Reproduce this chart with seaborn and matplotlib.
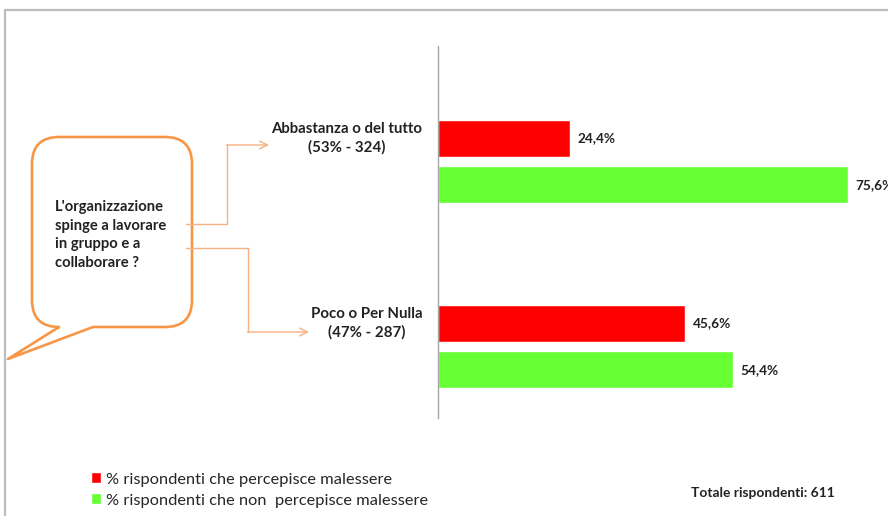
import numpy as np
import pandas as pd
import matplotlib
matplotlib.use("Agg")
import matplotlib.pyplot as plt
from matplotlib.path import Path
from matplotlib.patches import PathPatch
import seaborn as sns

# dati
categorie = ["Abbastanza o del tutto\n(53% - 324)", "Poco o Per Nulla\n(47% - 287)"]
serie = ["% rispondenti che percepisce malessere",
         "% rispondenti che non  percepisce malessere"]
malessere = [24.4, 45.6]
non_malessere = [75.6, 54.4]
colori = ["#FF0000", "#66FF33"]
domanda = "L'organizzazione\nspinge a lavorare\nin gruppo e a\ncollaborare ?"
totale = "Totale rispondenti: 611"

df = pd.DataFrame({
    "categoria": categorie * 2,
    "serie": [serie[0]] * 2 + [serie[1]] * 2,
    "valore": malessere + non_malessere,
})

sns.set_style("white")
plt.rcParams['font.family'] = ['Lato', 'DejaVu Sans']

W, H = 888, 516
fig = plt.figure(figsize=(W / 100, H / 100), dpi=100)

# assi delle barre (pixel -> frazione figura)
ax = fig.add_axes([438 / W, 1 - 418 / H, (W - 438) / W, 372 / H])
sns.barplot(data=df, y="categoria", x="valore", hue="serie", palette=colori,
            orient="h", width=0.5, gap=0.2, saturation=1, ax=ax)
ax.set_xlim(0, 83.0)
ax.set_ylim(1.386, -0.624)
ax.set_xlabel("")
ax.set_ylabel("")
ax.set_xticks([])
ax.set_yticks([])
for s in ["top", "right", "bottom"]:
    ax.spines[s].set_visible(False)
ax.spines["left"].set_color("#A6A6A6")
ax.spines["left"].set_linewidth(1)

for cont in ax.containers:
    labels = [f"{v:.1f}%".replace(".", ",") for v in cont.datavalues]
    ax.bar_label(cont, labels=labels, padding=5.5, fontsize=9.8,
                 fontweight="bold", color="#222222", clip_on=False)

# etichette categorie allineate alla barra rossa
for i, c in enumerate(categorie):
    ax.text(-2.9, i - 0.125, c, ha="right", va="center", multialignment="center",
            fontsize=10.8, fontweight="bold", color="#222222", linespacing=1.4)

sns.move_legend(ax, "center left", bbox_to_anchor=(84 / W, 1 - 490 / H),
                bbox_transform=fig.transFigure, frameon=False, title=None,
                fontsize=11.8, handlelength=0.65, handleheight=0.65,
                handletextpad=0.3, labelspacing=0.4, borderaxespad=0)

# overlay in pixel per fumetto, frecce e cornice
ov = fig.add_axes([0, 0, 1, 1], zorder=-1)
ov.set_xlim(0, W)
ov.set_ylim(H, 0)
ov.axis("off")

arancio = "#F79646"
arancio_chiaro = "#F6B183"
r = 27
L, R, T, B = 32, 192, 137, 327
verts = [(93, B), (R - r, B), (R, B), (R, B - r), (R, T + r), (R, T), (R - r, T),
         (L + r, T), (L, T), (L, T + r), (L, B - r), (L, B), (L + r, B),
         (8, 359), (93, B)]
codes = [Path.MOVETO, Path.LINETO, Path.CURVE3, Path.CURVE3, Path.LINETO,
         Path.CURVE3, Path.CURVE3, Path.LINETO, Path.CURVE3, Path.CURVE3,
         Path.LINETO, Path.CURVE3, Path.CURVE3, Path.LINETO, Path.CLOSEPOLY]
ov.add_patch(PathPatch(Path(verts, codes), facecolor="white", edgecolor=arancio,
                       lw=1.9, joinstyle="round"))
ov.text(55, 235, domanda, ha="left", va="center", fontsize=10.6, fontweight="bold",
        color="#222222", linespacing=1.45)

ov.plot([186, 227, 227], [224, 224, 145], color=arancio_chiaro, lw=1)
ov.annotate("", xy=(269, 145), xytext=(226.5, 145),
            arrowprops=dict(arrowstyle="->", color=arancio_chiaro, lw=1,
                            mutation_scale=14, shrinkA=0, shrinkB=0))
ov.plot([186, 248, 248], [248, 248, 332], color=arancio_chiaro, lw=1)
ov.annotate("", xy=(309, 332), xytext=(247.5, 332),
            arrowprops=dict(arrowstyle="->", color=arancio_chiaro, lw=1,
                            mutation_scale=14, shrinkA=0, shrinkB=0))

# cornice grigia
ov.plot([5, W], [9.5, 9.5], color="#BDBDBD", lw=1.6)
ov.plot([5, 5], [9.5, H], color="#BDBDBD", lw=1.6)

fig.text(691 / W, 1 - 493 / H, totale, ha="left", va="center", fontsize=9.9,
         fontweight="bold", color="#222222")

fig.savefig("out.png", dpi=100)
